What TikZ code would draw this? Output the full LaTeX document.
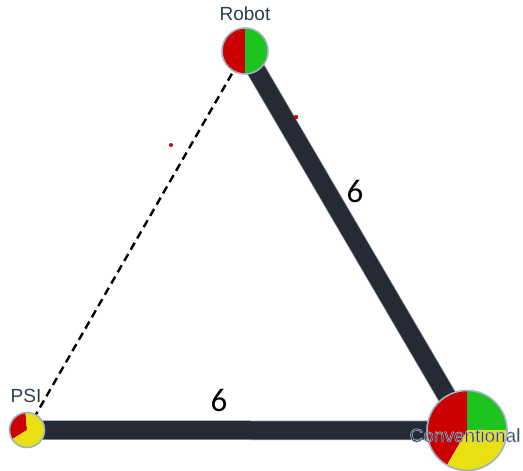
\documentclass[tikz,border=0pt]{standalone}
\usepackage{fontspec}
\setmainfont{Liberation Sans}
\newfontfamily\numfont{Carlito}
\definecolor{edgedark}{HTML}{262A35}
\definecolor{edgerim}{HTML}{8A8E96}
\definecolor{nodeborder}{HTML}{9DB3C8}
\definecolor{pred}{HTML}{CC0000}
\definecolor{pgreen}{HTML}{1EC41E}
\definecolor{pyellow}{HTML}{E8E010}
\definecolor{labtext}{HTML}{2E3D50}
\tikzset{
  rimedge/.style={draw=edgerim, line width=19.5pt},
  thickedge/.style={draw=edgedark, line width=18pt},
  dashedge/.style={draw=black, line width=2.4pt, dash pattern=on 8pt off 5pt},
  nodering/.style={draw=nodeborder, line width=1.6pt},
  namelabel/.style={font=\fontsize{19}{19}\selectfont, text=labtext, anchor=base, inner sep=0pt},
  weightlabel/.style={font=\numfont\fontsize{33}{33}\selectfont, text=black, anchor=base, inner sep=0pt},
  dot/.style={fill=red!85!black, draw=none}
}
\newcommand{\pieslice}[5]{% center, radius, start, end, color
  \fill[#5] (#1) -- ++(#3:#2) arc[start angle=#3, end angle=#4, radius=#2] -- cycle;}
\newcommand{\halotext}[1]{\special{pdf:literal direct 2 Tr 0.45 w 0.72 0.79 0.87 RG}#1\special{pdf:literal direct 0 Tr}}
\begin{document}
\begin{tikzpicture}[x=1pt,y=1pt]
\useasboundingbox (0,0) rectangle (523,471);
\coordinate (robot) at (245,420);
\coordinate (psi) at (27,41);
\coordinate (conv) at (467,40.5);
% edges
\draw[rimedge] (robot) -- (conv);
\draw[rimedge] (psi) -- (conv);
\draw[thickedge] (robot) -- (conv);
\draw[thickedge] (psi) -- (conv);
\draw[dashedge] (psi) -- (robot);
% stray dots
\fill[dot] (171,326) circle (2pt);
\fill[dot] (296,354) circle (2.2pt);
% Robot pie
\pieslice{robot}{23pt}{90}{270}{pred}
\pieslice{robot}{23pt}{-90}{90}{pgreen}
\draw[nodering] (robot) circle (23pt);
% PSI pie
\pieslice{psi}{17.5pt}{95}{212}{pred}
\pieslice{psi}{17.5pt}{212}{455}{pyellow}
\draw[nodering] (psi) circle (17.5pt);
% Conventional pie
\pieslice{conv}{40pt}{0}{90}{pgreen}
\pieslice{conv}{40pt}{90}{240}{pred}
\pieslice{conv}{40pt}{240}{360}{pyellow}
\draw[nodering] (conv) circle (40pt);
% labels
\node[namelabel] (robotlab) at (245,450) {Robot};
\node[namelabel] (psilab) at (26,68) {PSI};
\node[namelabel] (convlab) at (465,29) {\halotext{Conventional}};
\node[weightlabel] (w1) at (355,268) {6};
\node[weightlabel] (w2) at (219,59) {6};
\end{tikzpicture}
\end{document}
